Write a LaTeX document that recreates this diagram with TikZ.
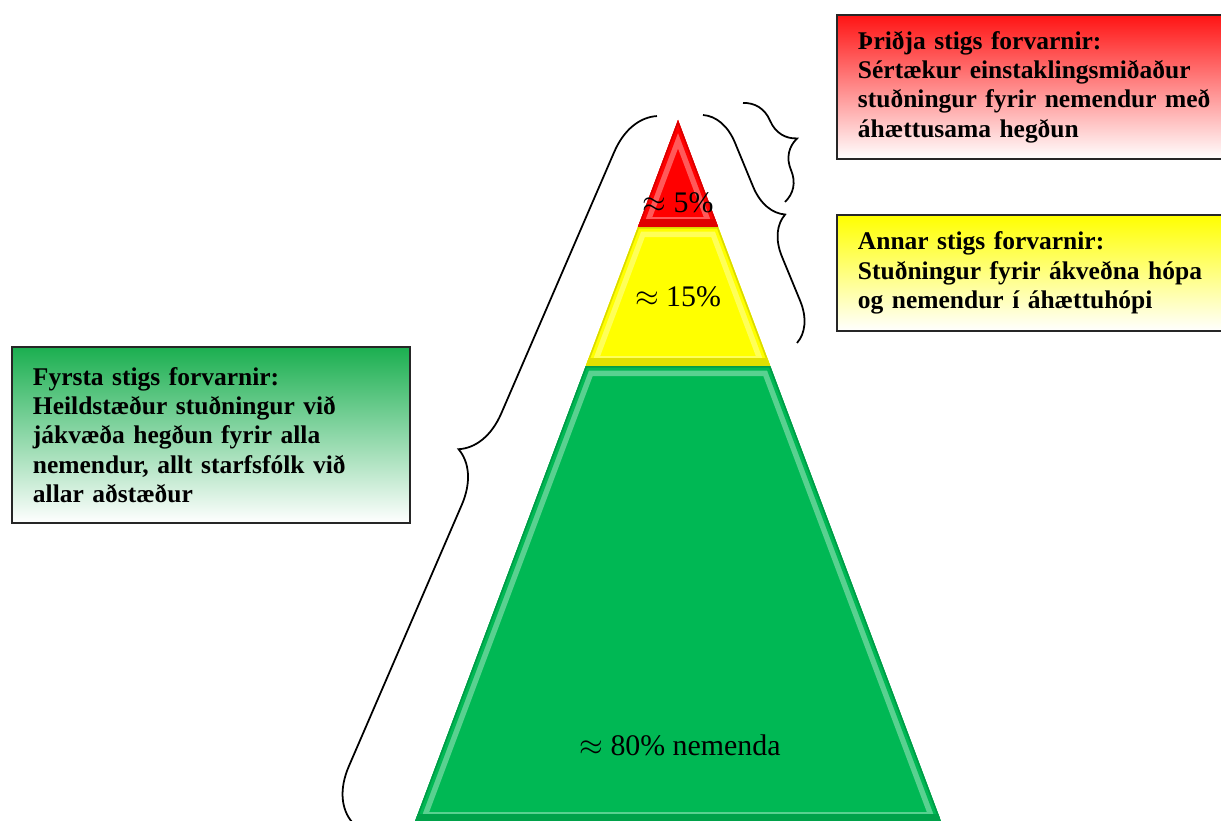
\documentclass[tikz,border=0pt]{standalone}
\usepackage{fontspec}
\setmainfont{Liberation Serif}
\usetikzlibrary{decorations.pathreplacing}
\definecolor{tierred}{RGB}{255,0,0}
\definecolor{tieryellow}{RGB}{255,255,0}
\definecolor{tiergreen}{RGB}{0,184,84}
\definecolor{boxred}{RGB}{255,20,20}
\definecolor{boxgreen}{RGB}{27,175,80}
\tikzset{
  infobox/.style={draw=black!85, line width=1.1pt, bottom color=white, text width=#1,
    align=left, inner xsep=4.2mm, anchor=north west,
    font=\fontsize{14.5}{16.7}\selectfont\bfseries},
  tierlabel/.style={font=\fontsize{17}{20}\selectfont},
  curlybrace/.style={draw, line width=1pt, decorate, decoration={brace, amplitude=#1}},
}
\begin{document}
\begin{tikzpicture}[x=0.2mm, y=-0.2mm]
    \useasboundingbox (0,0) rectangle (1221,821);
      % pyramid tiers
      \foreach \ya/\yb/\c in {120/227/tierred,227/366/tieryellow,366/822/tiergreen} {
        \pgfmathsetmacro{\wa}{(\ya - 120) * 0.375}
        \pgfmathsetmacro{\wb}{(\yb - 120) * 0.375}
        \begin{scope}
          \clip ({678-\wa},\ya) -- ({678+\wa},\ya) -- ({678+\wb},\yb) -- ({678-\wb},\yb) -- cycle;
          \fill[\c] ({678-\wb},\ya) rectangle ({678+\wb},\yb);
          \draw[\c!65!white, line width=4mm] ({678-\wa},\ya) -- ({678+\wa},\ya) -- ({678+\wb},\yb) -- ({678-\wb},\yb) -- cycle;
          \draw[\c, line width=1.8mm] ({678-\wa},\ya) -- ({678+\wa},\ya) -- ({678+\wb},\yb) -- ({678-\wb},\yb) -- cycle;
          \draw[\c!85!black, line width=0.6mm] ({678-\wa},\ya) -- ({678+\wa},\ya) -- ({678+\wb},\yb) -- ({678-\wb},\yb) -- cycle;
          \draw[\c!88!black, line width=3.2mm] ({678-\wb},\yb) -- ({678+\wb},\yb);
        \end{scope}
      }
      % tier labels
      \node[tierlabel] (p5) at (678,203) {$\approx$ 5\%};
      \node[tierlabel] (p15) at (678,297) {$\approx$ 15\%};
      \node[tierlabel] (p80) at (680,745) {$\approx$ 80\% nemenda};
      % info boxes
      \node[infobox=68.6mm, top color=boxred, minimum height=28.8mm] (tertiary) at (836,14)
        {Þriðja stigs forvarnir:\\ \mbox{Sértækur einstaklingsmiðaður}\\ \mbox{stuðningur fyrir nemendur með}\\ áhættusama hegðun};
      \node[infobox=68.6mm, top color=tieryellow, minimum height=23.2mm] (secondary) at (836,214)
        {Annar stigs forvarnir:\\ \mbox{Stuðningur fyrir ákveðna hópa}\\ og nemendur í áhættuhópi};
      \node[infobox=71.2mm, top color=boxgreen, minimum height=35.2mm] (primary) at (11,346)
        {Fyrsta stigs forvarnir:\\ Heildstæður stuðningur við\\ jákvæða hegðun fyrir alla\\ \mbox{nemendur, allt starfsfólk við}\\ allar aðstæður};
      % braces
      \coordinate (c1) at (352,822);
      \coordinate (c2) at (657,116);
      \coordinate (a1) at (703,115);
      \coordinate (a2) at (797,343);
      \coordinate (b1) at (743,103);
      \coordinate (b2) at (785,202);
      \draw[curlybrace=10mm] (c1) -- (c2);
      \draw[curlybrace=7.6mm] (a1) -- (a2);
      \draw[curlybrace=7.2mm] (b1) -- (b2);
    \end{tikzpicture}
\end{document}
